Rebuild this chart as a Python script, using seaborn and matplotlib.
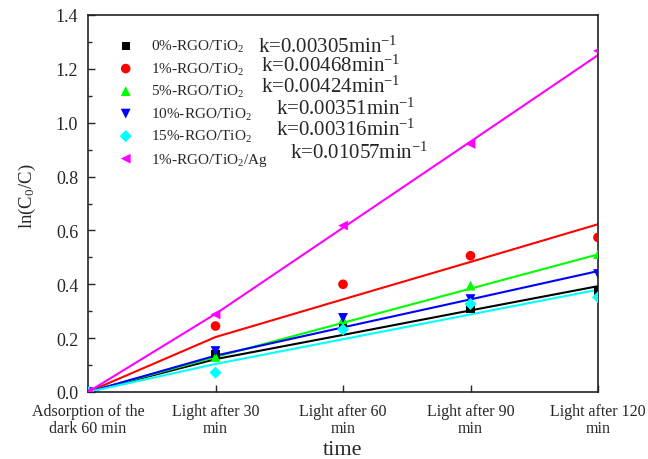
import numpy as np
import pandas as pd
import matplotlib
matplotlib.use("Agg")
import matplotlib.pyplot as plt
import seaborn as sns

# Sampling stages along the x axis
stages = [0, 1, 2, 3, 4]
stage_labels = [
    "Adsorption of the\ndark 60 min",
    "Light after 30\nmin",
    "Light after 60\nmin",
    "Light after 90\nmin",
    "Light after 120\nmin",
]

# Sample names, legend labels and rate constants
samples = ["0%", "1%", "5%", "10%", "15%", "1%Ag"]
labels = [
    "0%-RGO/TiO$_2$",
    "1%-RGO/TiO$_2$",
    "5%-RGO/TiO$_2$",
    "10%-RGO/TiO$_2$",
    "15%-RGO/TiO$_2$",
    "1%-RGO/TiO$_2$/Ag",
]
k_labels = [
    "k=0.00305min$^{-1}$",
    "k=0.00468min$^{-1}$",
    "k=0.00424min$^{-1}$",
    "k=0.00351min$^{-1}$",
    "k=0.00316min$^{-1}$",
    "k=0.01057min$^{-1}$",
]

# Measured ln(C0/C)
meas_0 = [0.0, 0.14, 0.24, 0.308, 0.376]
meas_1 = [0.0, 0.245, 0.40, 0.506, 0.574]
meas_5 = [0.0, 0.13, 0.27, 0.395, 0.512]
meas_10 = [0.0, 0.152, 0.275, 0.345, 0.438]
meas_15 = [0.0, 0.072, 0.232, 0.327, 0.352]
meas_ag = [0.0, 0.288, 0.618, 0.921, 1.267]

# Fitted ln(C0/C)
fit_0 = [0.0, 0.122, 0.212, 0.303, 0.393]
fit_1 = [0.0, 0.204, 0.344, 0.483, 0.623]
fit_5 = [0.0, 0.130, 0.257, 0.384, 0.511]
fit_10 = [0.0, 0.135, 0.240, 0.344, 0.449]
fit_15 = [0.0, 0.104, 0.196, 0.288, 0.380]
fit_ag = [0.0, 0.290, 0.610, 0.930, 1.251]

measured = [meas_0, meas_1, meas_5, meas_10, meas_15, meas_ag]
fitted = [fit_0, fit_1, fit_5, fit_10, fit_15, fit_ag]

colors = ["#000000", "#ff0000", "#00ff00", "#0000ff", "#00ffff", "#ff00ff"]
markers = ["s", "o", "^", "v", "D", "<"]
sizes = [34, 48, 50, 50, 38, 50]

sns.set_style("ticks")
plt.rcParams["font.family"] = ["Liberation Serif", "DejaVu Serif"]
plt.rcParams["mathtext.fontset"] = "custom"
plt.rcParams["mathtext.rm"] = "Liberation Serif"
plt.rcParams["mathtext.it"] = "Liberation Serif"
plt.rcParams["mathtext.default"] = "regular"

fig = plt.figure(figsize=(6.48, 4.60), dpi=100)
ax = fig.add_axes([88 / 648, 1 - 393 / 460, 510 / 648, 377 / 460])

rows = []
for s, m, f in zip(samples, measured, fitted):
    for x, mv, fv in zip(stages, m, f):
        rows.append({"sample": s, "stage": x, "measured": mv, "fit": fv})
df = pd.DataFrame(rows)

# fitted lines first, measured points on top
for s, c in zip(samples, colors):
    sub = df[df["sample"] == s]
    sns.lineplot(data=sub, x="stage", y="fit", color=c, lw=1.5,
                 legend=False, ax=ax, zorder=2)
for s, lab, c, mk, sz in zip(samples, labels, colors, markers, sizes):
    sub = df[df["sample"] == s]
    sns.scatterplot(data=sub, x="stage", y="measured", color=c, marker=mk,
                    s=sz, edgecolor="none", linewidth=0, label=lab, ax=ax,
                    zorder=3)

ax.set_xlim(0, 4)
ax.set_ylim(0, 1.4)
ax.set_xticks(stages)
ax.set_xticklabels(stage_labels, fontsize=11.5, linespacing=1.05)
yt = np.arange(0, 1.41, 0.2)
ax.set_yticks(yt)
ax.set_yticklabels([f"{v:.1f}" for v in yt], fontsize=13)
ax.set_yticks(np.arange(0.1, 1.4, 0.2), minor=True)
ax.tick_params(axis="both", which="major", direction="in", length=5,
               width=1.0, top=False, right=False)
ax.tick_params(axis="y", which="minor", direction="in", length=3,
               width=1.0, right=False)
ax.tick_params(axis="x", which="major", pad=8)
ax.tick_params(axis="y", which="major", pad=7)

for sp in ax.spines.values():
    sp.set_linewidth(1.2)
    sp.set_color("#222222")

ax.set_xlabel("time", fontsize=16)
ax.xaxis.set_label_coords(0.5, -0.126)
ax.set_ylabel("ln(C$_0$/C)", fontsize=13.5)
ax.yaxis.set_label_coords(-0.098, 0.523)

leg = ax.legend(loc="upper left", bbox_to_anchor=(0.047, 0.955),
                frameon=False, fontsize=11, handlelength=1.0,
                handletextpad=1.15, labelspacing=0.42, borderaxespad=0)

k_pos = [(0.333, 0.918), (0.339, 0.866), (0.339, 0.810),
         (0.369, 0.753), (0.369, 0.698), (0.396, 0.637)]
for (kx, ky), kt in zip(k_pos, k_labels):
    ax.text(kx, ky, kt, transform=ax.transAxes, fontsize=15,
            ha="left", va="center")

fig.savefig("out.png", dpi=100)
